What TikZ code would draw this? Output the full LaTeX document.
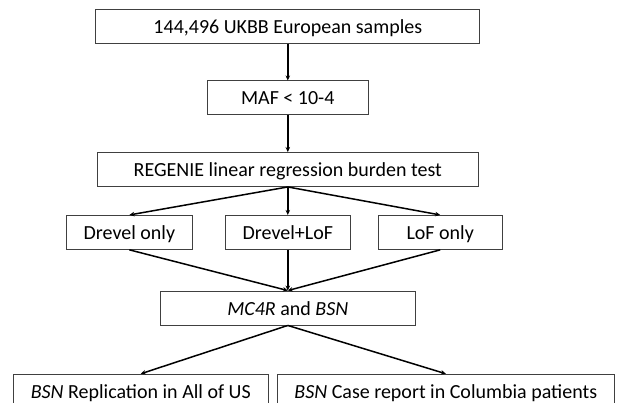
\documentclass[tikz,border=0pt]{standalone}
\usepackage{fontspec}
\setmainfont{Carlito}
\usetikzlibrary{arrows.meta}

\tikzset{
  stepbox/.style={rectangle,draw=black!75,line width=0.9pt,minimum height=34pt,inner sep=0pt,text height=15pt,text depth=1pt,font=\fontsize{20}{22}\selectfont},
  flow/.style={-{Stealth[length=5pt,width=4.5pt]},line width=1.5pt},
}

\begin{document}
\begin{tikzpicture}[x=1pt,y=1pt]
\useasboundingbox (0,0) rectangle (623,402);
\clip (0,0) rectangle (623,402);

\node [stepbox,minimum width=384pt] (samples) at (287.8,375.7) {144,496 UKBB European samples};
\node [stepbox,minimum width=161pt,below=36.7pt,at=(samples.south)] (maf) {MAF < 10-4};
\node [stepbox,minimum width=381pt,below=36.7pt,at=(maf.south)] (regenie) {REGENIE linear regression burden test};

\node [stepbox,minimum width=125pt,below=28pt,at=(regenie.south)] (both) {Drevel+LoF};
\node [stepbox,minimum width=126pt,left=32pt,at=(both.west)] (drevel) {Drevel only};
\node [stepbox,minimum width=124pt,right=27pt,at=(both.east)] (lof) {LoF only};

\node [stepbox,minimum width=255pt,below=40.7pt,at=(both.south)] (genes) {\textit{MC4R} and \textit{BSN}};

\node [stepbox,minimum width=255pt,minimum height=35pt,below=48.3pt,at=(genes.south),xshift=-147pt] (allofus) {\textit{BSN} Replication in All of US};
\node [stepbox,minimum width=337pt,minimum height=35pt,below=48.3pt,at=(genes.south),xshift=158pt] (columbia) {\textit{BSN} Case report in Columbia patients};

\draw [flow] (samples) -- (maf);
\draw [flow] (maf) -- (regenie);
\draw [flow] (regenie.south) -- (drevel.north);
\draw [flow] (regenie.south) -- (both.north);
\draw [flow] (regenie.south) -- (lof.north);
\draw [flow] (drevel.south) -- (genes.north);
\draw [flow] (both.south) -- (genes.north);
\draw [flow] (lof.south) -- (genes.north);
\draw [flow] (genes.south) -- (allofus.north);
\draw [flow] (genes.south) -- (columbia.north);
\end{tikzpicture}
\end{document}
